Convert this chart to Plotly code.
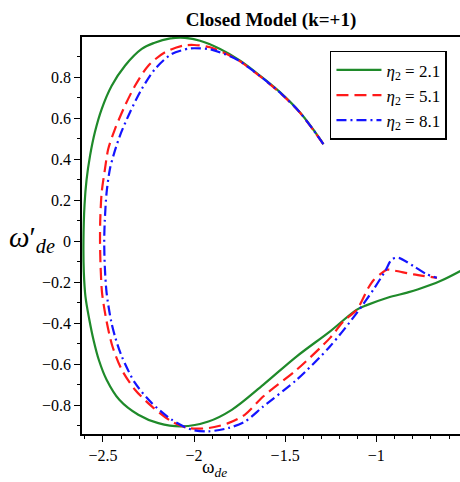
import plotly.graph_objects as go

# eta2 = 2.1 (green, solid)
w_21 = [-1.290, -1.308, -1.418, -1.527, -1.637, -1.747, -1.857, -1.967, -2.050, -2.130, -2.220, -2.287,
        -2.379, -2.452, -2.507, -2.544, -2.571, -2.590, -2.601, -2.607, -2.605, -2.596, -2.575, -2.552,
        -2.522, -2.480, -2.410, -2.306, -2.196, -2.068, -1.921, -1.793, -1.619, -1.436, -1.253, -1.106,
        -1.048, -0.938, -0.830, -0.773, -0.648, -0.538]
wp_21 = [0.474, 0.499, 0.629, 0.727, 0.808, 0.882, 0.939, 0.979, 0.993, 0.990, 0.968, 0.939,
         0.857, 0.759, 0.645, 0.533, 0.417, 0.300, 0.180, 0.000, -0.150, -0.270, -0.381, -0.480,
         -0.580, -0.675, -0.773, -0.846, -0.887, -0.903, -0.879, -0.822, -0.699, -0.561, -0.439, -0.333,
         -0.310, -0.275, -0.250, -0.235, -0.194, -0.145]

# eta2 = 5.1 (red, dashed)
w_51 = [-1.290, -1.308, -1.418, -1.527, -1.637, -1.747, -1.802, -1.912, -2.000, -2.059, -2.159, -2.251,
        -2.324, -2.379, -2.434, -2.471, -2.489, -2.507, -2.515, -2.516, -2.513, -2.505, -2.482, -2.448,
        -2.397, -2.324, -2.232, -2.123, -2.031, -1.921, -1.812, -1.720, -1.619, -1.436, -1.253, -1.180,
        -1.106, -1.042, -1.015, -0.970, -0.941, -0.900, -0.795, -0.667]
wp_51 = [0.474, 0.497, 0.627, 0.724, 0.805, 0.878, 0.906, 0.947, 0.958, 0.955, 0.923, 0.857,
         0.759, 0.662, 0.548, 0.450, 0.352, 0.238, 0.100, 0.000, -0.120, -0.251, -0.381, -0.512,
         -0.626, -0.724, -0.805, -0.879, -0.911, -0.911, -0.887, -0.845, -0.756, -0.626, -0.471, -0.390,
         -0.333, -0.225, -0.190, -0.155, -0.138, -0.143, -0.161, -0.178]

# eta2 = 8.1 (blue, dash-dot)
w_81 = [-1.290, -1.308, -1.418, -1.527, -1.637, -1.747, -1.802, -1.912, -2.000, -2.031, -2.123, -2.214,
        -2.287, -2.352, -2.407, -2.443, -2.462, -2.480, -2.490, -2.493, -2.490, -2.480, -2.455, -2.432,
        -2.397, -2.324, -2.232, -2.123, -2.013, -1.921, -1.812, -1.720, -1.619, -1.436, -1.253, -1.106,
        -1.015, -0.951, -0.914, -0.878, -0.795, -0.722, -0.667]
wp_81 = [0.474, 0.498, 0.628, 0.725, 0.806, 0.878, 0.903, 0.937, 0.942, 0.940, 0.914, 0.841,
         0.743, 0.629, 0.515, 0.417, 0.352, 0.238, 0.100, 0.000, -0.120, -0.251, -0.390, -0.470,
         -0.561, -0.691, -0.789, -0.870, -0.919, -0.927, -0.911, -0.879, -0.805, -0.675, -0.512, -0.349,
         -0.235, -0.145, -0.088, -0.080, -0.121, -0.161, -0.178]

names = ["<i>η</i><sub>2</sub> = 2.1", "<i>η</i><sub>2</sub> = 5.1", "<i>η</i><sub>2</sub> = 8.1"]
colors = ["#1f8a2a", "#ff1a1a", "#1414ff"]
dashes = ["solid", "12px,6px", "10px,4px,2px,4px"]
smooth = [1.0, 0.8, 0.8]
series = [(w_21, wp_21), (w_51, wp_51), (w_81, wp_81)]

x_ticks = [-2.5, -2, -1.5, -1]
x_ticktext = ["\u22122.5", "\u22122", "\u22121.5", "\u22121"]
y_ticks = [0.8, 0.6, 0.4, 0.2, 0, -0.2, -0.4, -0.6, -0.8]
y_ticktext = ["0.8", "0.6", "0.4", "0.2", "0", "\u22120.2", "\u22120.4", "\u22120.6", "\u22120.8"]

fig = go.Figure()
for (xs, ys), nm, c, d, s in zip(series, names, colors, dashes, smooth):
    fig.add_trace(go.Scatter(x=xs, y=ys, mode="lines", name=nm,
                             line=dict(color=c, width=2.2, dash=d, shape="spline", smoothing=s)))

serif = "Liberation Serif"
fig.update_layout(
    width=460, height=482,
    margin=dict(l=82, r=0, t=37, b=48),
    paper_bgcolor="white", plot_bgcolor="white",
    font=dict(family=serif, color="black", size=16),
    title=dict(text="<b>Closed Model (k=+1)</b>", x=0.5, xref="paper", xanchor="center",
               y=1 - 19 / 482, yref="container", yanchor="middle",
               font=dict(family=serif, size=19, color="black")),
    showlegend=True,
    legend=dict(x=0.656, y=0.965, xanchor="left", yanchor="top",
                bgcolor="white", bordercolor="black", borderwidth=1.5,
                font=dict(family=serif, size=17, color="black"),
                itemwidth=45, tracegroupgap=0),
    xaxis=dict(range=[-2.615, -0.54], tickvals=x_ticks, ticktext=x_ticktext,
               showgrid=False, zeroline=False, showline=True, linecolor="black", linewidth=1.5,
               mirror=True, ticks="outside", ticklen=6, tickcolor="black",
               minor=dict(dtick=0.1, tick0=0, ticks="outside", ticklen=3, tickcolor="black"),
               tickfont=dict(family=serif, size=16, color="black")),
    yaxis=dict(range=[-0.94, 0.997], tickvals=y_ticks, ticktext=y_ticktext,
               showgrid=False, zeroline=False, showline=True, linecolor="black", linewidth=1.5,
               mirror=False, ticks="outside", ticklen=6, tickcolor="black",
               minor=dict(dtick=0.1, tick0=0, ticks="outside", ticklen=3, tickcolor="black"),
               tickfont=dict(family=serif, size=16, color="black")),
    annotations=[
        dict(text="<i>ω</i>′<sub><i>de</i></sub>", xref="paper", yref="paper",
             x=(32 - 82) / 378, y=0.49, xanchor="center", yanchor="middle", showarrow=False,
             font=dict(family=serif, size=29, color="black")),
        dict(text="ω<sub><i>de</i></sub>", xref="paper", yref="paper",
             x=(214 - 82) / 378, y=-0.085, xanchor="center", yanchor="middle", showarrow=False,
             font=dict(family=serif, size=19, color="black")),
    ],
)

fig.write_html("out.html")
